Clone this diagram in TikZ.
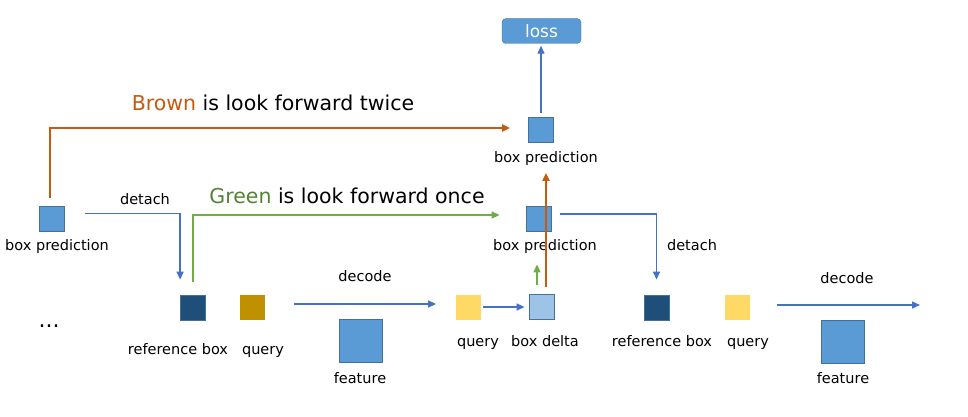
\documentclass[tikz,border=0pt]{standalone}
\usepackage{fontspec}
\setmainfont{DejaVu Sans}
\usetikzlibrary{arrows.meta}

\definecolor{boxblue}{HTML}{5B9BD5}
\definecolor{boxedge}{HTML}{41719C}
\definecolor{refblue}{HTML}{1F4E79}
\definecolor{deltablue}{HTML}{9DC3E6}
\definecolor{querygold}{HTML}{BF9000}
\definecolor{queryyellow}{HTML}{FFD966}
\definecolor{arrowblue}{HTML}{4472C4}
\definecolor{brownline}{HTML}{C55A11}
\definecolor{greenline}{HTML}{70AD47}
\definecolor{greentext}{HTML}{548235}

\begin{document}
\begin{tikzpicture}[x=1pt, y=-1pt]
        \tikzstyle{sq_box}   = [shape = rectangle, draw = boxedge, line width=0.8pt, minimum size=25pt, inner sep=0pt]
        \tikzstyle{pred_box} = [sq_box, fill = boxblue]
        \tikzstyle{ref_box}  = [sq_box, fill = refblue]
        \tikzstyle{delta_box}= [sq_box, fill = deltablue]
        \tikzstyle{q_old}    = [sq_box, draw = none, fill = querygold]
        \tikzstyle{q_new}    = [sq_box, draw = none, fill = queryyellow]
        \tikzstyle{feat_box} = [sq_box, fill = boxblue, minimum size=43pt]
        \tikzstyle{lbl}      = [inner sep=0pt, text height=11pt, text depth=3pt, font=\fontsize{14.5}{17}\selectfont]
        \tikzstyle{title}    = [inner sep=0pt, font=\fontsize{20.5}{24}\selectfont]
        \tikzstyle{tip}      = [-{Triangle[length=8pt,width=7pt]}]
        \tikzstyle{blue_arr} = [tip, draw = arrowblue, line width=1.3pt]
        \tikzstyle{brown_arr}= [tip, draw = brownline, line width=2pt]
        \tikzstyle{green_arr}= [tip, draw = greenline, line width=1.4pt]

        \useasboundingbox (0,0) rectangle (968,417);

        % loss and the two later predictions
        \node[shape = rectangle, rounded corners=4pt, draw = boxedge, fill = boxblue,
              minimum width=79pt, minimum height=25pt, text = white,
              font=\fontsize{17}{20}\selectfont] at (541.5, 31) (loss) {loss};

        \node[pred_box] at (541, 130) (bp2) {};
        \node[lbl]      at (546, 158) (bp2_l) {box prediction};

        \node[pred_box] at (538.5, 218.5) (bpm) {};
        \node[lbl]      at (545, 246) (bpm_l) {box prediction};

        % first stage
        \node[pred_box] at (52, 218.5) (bp1) {};
        \node[lbl]      at (57, 246) (bp1_l) {box prediction};

        \node[ref_box]  at (193, 307.5) (ref1) {};
        \node[lbl]      at (178, 350) (ref1_l) {reference box};
        \node[q_old]    at (252.5, 307) (q1) {};
        \node[lbl]      at (263, 350) (q1_l) {query};
        \node[inner sep=0pt, font=\fontsize{22}{24}\selectfont] at (49, 326) (dots) {...};

        \node[lbl]      at (145, 200) (det1) {detach};
        \node[lbl]      at (365, 277) (dec1) {decode};
        \node[feat_box] at (361, 340.5) (feat1) {};
        \node[lbl]      at (360, 379) (feat1_l) {feature};

        % second stage
        \node[q_new]     at (468, 307) (q2) {};
        \node[lbl]       at (478, 342) (q2_l) {query};
        \node[delta_box] at (541.5, 307) (delta) {};
        \node[lbl]       at (545, 342) (delta_l) {box delta};

        \node[lbl]      at (692, 246) (det2) {detach};
        \node[ref_box]  at (656.5, 307.5) (ref2) {};
        \node[lbl]      at (662, 342) (ref2_l) {reference box};
        \node[q_new]    at (737.5, 307) (q3) {};
        \node[lbl]      at (748, 342) (q3_l) {query};
        \node[lbl]      at (847, 279) (dec2) {decode};
        \node[feat_box] at (843, 341.5) (feat2) {};
        \node[lbl]      at (843, 379) (feat2_l) {feature};
        \coordinate (dec2_end) at (920, 305);

        % titles
        \node[title] at (273, 103) (brown_t) {\textcolor{brownline}{Brown} is look forward twice};
        \node[title] at (347, 196) (green_t) {\textcolor{greentext}{Green} is look forward once};

        % connectors
        \coordinate (bp1_top) at ([xshift=-2pt]bp1.north);
        \coordinate (dtop) at ([xshift=4.5pt]delta.north);
        \coordinate (dgreen) at ([xshift=-4.5pt]delta.north);

        \draw[brown_arr, shorten <=8pt, shorten >=18pt]
          (bp1_top) |- ([yshift=2pt]bp2.west);

        \draw[blue_arr, shorten <=20pt, shorten >=15pt]
          ([yshift=5pt]bp1.east) -| (ref1.north west);

        \draw[green_arr, shorten <=13pt, shorten >=26pt]
          (ref1.north) |- ([yshift=3.5pt]bpm.west);

        \draw[blue_arr, shorten <=29pt, shorten >=19pt]
          ([yshift=3pt]q1.east) -- ([yshift=3pt]q2.west);
        \draw[blue_arr, shorten <=2pt, shorten >=4pt]
          (q2.east) -- (delta.west);

        \draw[green_arr, shorten <=9pt, shorten >=33pt]
          (dgreen) -- (dgreen |- bpm.south);

        \draw[blue_arr, shorten <=4pt, shorten >=2pt]
          (bp2.north) -- (bp2.north |- loss.south);

        \draw[blue_arr, shorten <=9pt, shorten >=15pt]
          ([yshift=4.5pt]bpm.east) -| (ref2.north);

        \draw[blue_arr, shorten <=27pt]
          ([yshift=2pt]q3.east) -- (dec2_end);

        \draw[brown_arr, shorten <=7pt, shorten >=30pt]
          (dtop) -- (dtop |- bp2.south);
      \end{tikzpicture}
\end{document}
